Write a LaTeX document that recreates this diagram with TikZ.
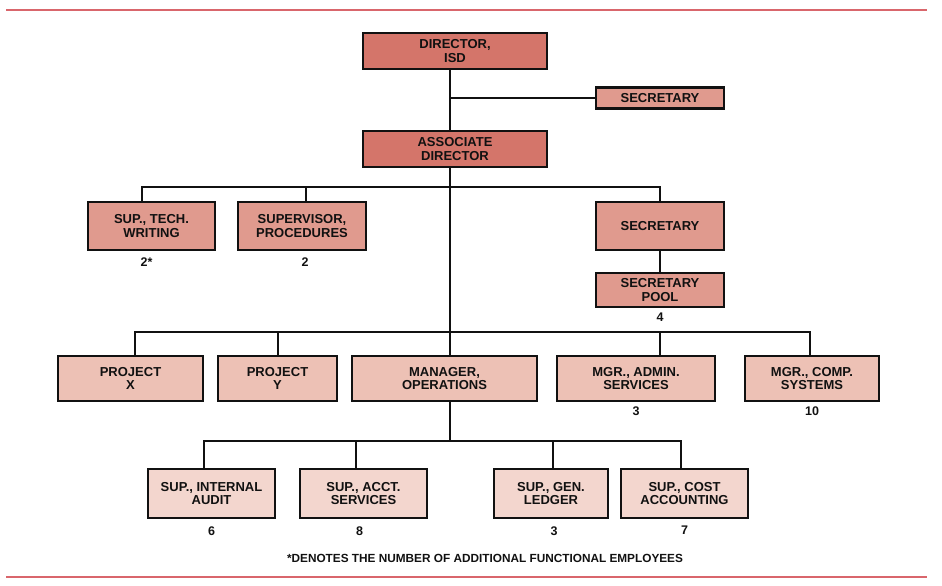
\documentclass[tikz,border=0pt]{standalone}
\usepackage{fontspec}
\setmainfont{Liberation Sans}
\usetikzlibrary{positioning}
\usepackage{xcolor}
\definecolor{chiefred}{HTML}{D4756A}
\definecolor{staffrose}{HTML}{E09A8E}
\definecolor{unitrose}{HTML}{EDC1B5}
\definecolor{subrose}{HTML}{F3D6CE}
\definecolor{rulered}{HTML}{D9666C}
\definecolor{ink}{HTML}{111111}

\begin{document}
\begin{tikzpicture}[x=1pt, y=-1pt,
  orgbox/.style={draw=ink, line width=2.2pt, align=center, inner sep=0pt,
    text=ink, font=\bfseries\fontsize{13}{13.5}\selectfont},
  chiefbox/.style={orgbox, fill=chiefred, minimum width=184pt, minimum height=36pt},
  staffbox/.style={orgbox, fill=staffrose, minimum width=128pt, minimum height=48pt},
  unitbox/.style={orgbox, fill=unitrose, minimum height=45pt},
  subbox/.style={orgbox, fill=subrose, minimum width=127pt, minimum height=49pt},
  count/.style={inner sep=0pt, text=ink, font=\bfseries\fontsize{12.5}{13}\selectfont},
  link/.style={draw=ink, line width=2pt}
]
\useasboundingbox (0,0) rectangle (942,586);
\draw[rulered, line width=1.8pt] (6,10) -- (927,10);
\draw[rulered, line width=1.8pt] (6,577) -- (927,577);

% top of the chart
\node[chiefbox] (director) at (455,51) {DIRECTOR,\\ISD};
\node[staffbox, minimum height=21pt] (secA) at (660,98) {SECRETARY};
\node[chiefbox] (assoc) at (455,149) {ASSOCIATE\\DIRECTOR};

% staff under the associate director
\node[staffbox, minimum width=127pt] (tech) at (151.5,226) {SUP., TECH.\\WRITING};
\node[staffbox] (proc) at (302,226) {SUPERVISOR,\\PROCEDURES};
\node[staffbox] (secB) at (660,226) {SECRETARY};
\node[staffbox, minimum height=34pt] (pool) at (660,290) {SECRETARY\\POOL};
\node[count, below=6pt of tech, xshift=-5pt] {2*};
\node[count, below=6pt of proc, xshift=3pt] {2};
\node[count, below=5pt of pool] {4};

% managers and projects
\node[unitbox, minimum width=145pt] (projx) at (130.5,378.5) {PROJECT\\X};
\node[unitbox, minimum width=119pt] (projy) at (277.5,378.5) {PROJECT\\Y};
\node[unitbox, minimum width=185pt] (mgr) at (444.5,378.5) {MANAGER,\\OPERATIONS};
\node[unitbox, minimum width=158pt] (admin) at (636,378.5) {MGR., ADMIN.\\SERVICES};
\node[unitbox, minimum width=134pt] (comp) at (812,378.5) {MGR., COMP.\\SYSTEMS};
\node[count, below=4pt of admin] {3};
\node[count, below=4pt of comp] {10};

% supervisors under operations
\node[subbox] (audit) at (211.5,493.5) {SUP., INTERNAL\\AUDIT};
\node[subbox] (acct) at (363.5,493.5) {SUP., ACCT.\\SERVICES};
\node[subbox, minimum width=114pt] (ledger) at (551,493.5) {SUP., GEN.\\LEDGER};
\node[subbox] (cost) at (684.5,493.5) {SUP., COST\\ACCOUNTING};
\node[count, below=7pt of audit] {6};
\node[count, below=7pt of acct, xshift=-4pt] {8};
\node[count, below=7pt of ledger, xshift=3pt] {3};
\node[count, below=7pt of cost] {7};

\node[count, font=\bfseries\fontsize{11.8}{13}\selectfont] (note) at (485,558)
  {*DENOTES THE NUMBER OF ADDITIONAL FUNCTIONAL EMPLOYEES};

% connectors
\coordinate (spine) at (450,0);
\coordinate (staffbus) at (450,187);
\coordinate (unitbus) at (450,332);
\coordinate (subbus) at (450,441);
\draw[link] (director.south -| spine) -- (assoc.north -| spine);
\draw[link] (spine |- secA.west) -- (secA.west);
\draw[link] (assoc.south -| spine) -- (mgr.north -| spine);
\draw[link] ([xshift=-10pt]tech.north) |- (staffbus) -| (secB.north);
\draw[link] ([xshift=4pt]proc.north) -- ([xshift=4pt]proc.north |- staffbus);
\draw[link] (secB) -- (pool);
\draw[link] ([xshift=4pt]projx.north) |- (unitbus) -| ([xshift=-2pt]comp.north);
\draw[link] (projy.north) -- (projy.north |- unitbus);
\draw[link] ([xshift=24pt]admin.north) -- ([xshift=24pt]admin.north |- unitbus);
\draw[link] (mgr.south -| spine) -- (subbus);
\draw[link] ([xshift=-8pt]audit.north) |- (subbus) -| ([xshift=-4pt]cost.north);
\draw[link] ([xshift=-7.5pt]acct.north) -- ([xshift=-7.5pt]acct.north |- subbus);
\draw[link] ([xshift=2pt]ledger.north) -- ([xshift=2pt]ledger.north |- subbus);
\end{tikzpicture}
\end{document}
